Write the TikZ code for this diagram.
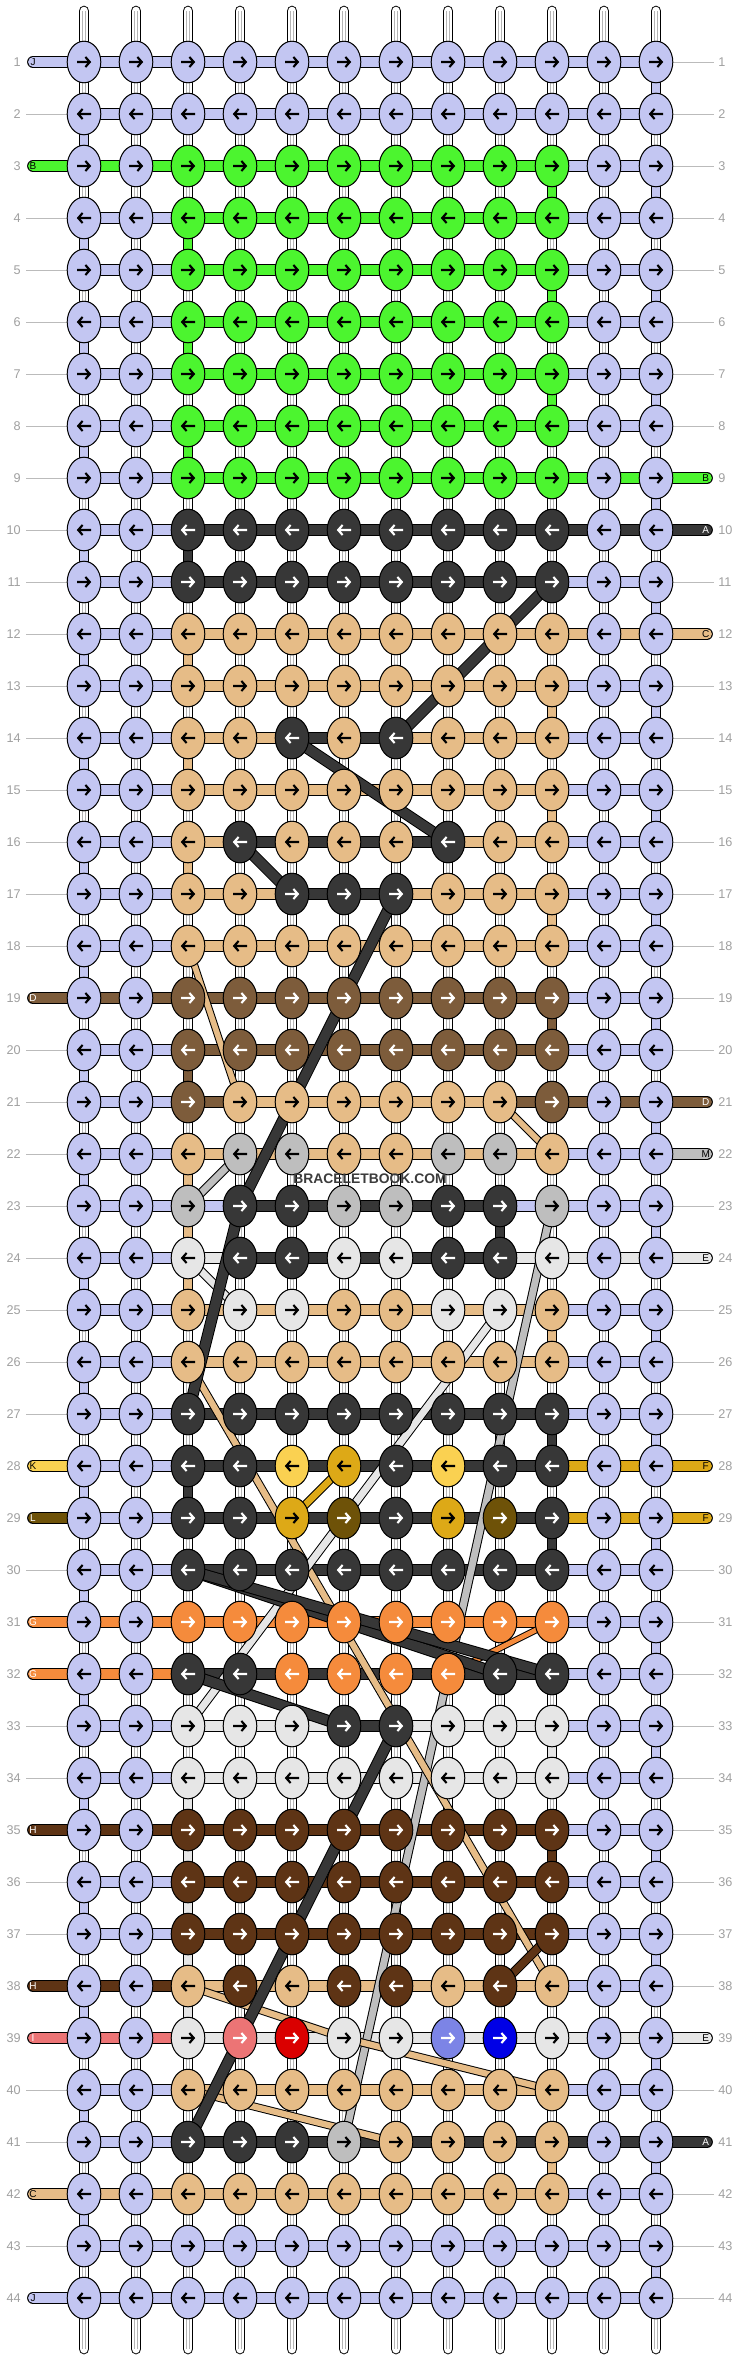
\documentclass[tikz,border=0pt]{standalone}
\usepackage{fontspec}
\setmainfont{Liberation Sans}
\usetikzlibrary{shapes.geometric}

\definecolor{cl}{HTML}{C3C6F2}
\definecolor{cg}{HTML}{4CF52F}
\definecolor{ck}{HTML}{373737}
\definecolor{ct}{HTML}{E6BC87}
\definecolor{cd}{HTML}{7D5C3B}
\definecolor{cs}{HTML}{BEBEBE}
\definecolor{cw}{HTML}{E6E6E6}
\definecolor{cy}{HTML}{FAD151}
\definecolor{cf}{HTML}{DDA917}
\definecolor{co}{HTML}{6E5208}
\definecolor{cr}{HTML}{F58B3C}
\definecolor{ch}{HTML}{5E3415}
\definecolor{cp}{HTML}{EC7475}
\definecolor{cx}{HTML}{DA0000}
\definecolor{cb}{HTML}{7C84E6}
\definecolor{cn}{HTML}{0000E6}
\colorlet{al}{black}\colorlet{ag}{black}\colorlet{at}{black}\colorlet{as}{black}
\colorlet{aw}{black}\colorlet{ay}{black}\colorlet{af}{black}
\colorlet{ak}{white}\colorlet{ad}{white}\colorlet{ao}{white}\colorlet{ar}{white}
\colorlet{ah}{white}\colorlet{ap}{white}\colorlet{ax}{white}\colorlet{ab}{white}\colorlet{an}{white}
\definecolor{numgray}{HTML}{A0A0A0}
\definecolor{linegray}{HTML}{BBBBBB}
\definecolor{warpline}{HTML}{B4B4B4}
\definecolor{wmgray}{HTML}{3C3C3C}

\newcommand\defknots[2]{\expandafter\gdef\csname KN#1\endcsname{#2}}
\newcommand\defconns[2]{\expandafter\gdef\csname HC#1\endcsname{#2}}

\def\rowLav{l,l,l,l,l,l,l,l,l,l,l,l}
\def\rowGrn{l,l,g,g,g,g,g,g,g,g,l,l}
\def\rowDrk{l,l,k,k,k,k,k,k,k,k,l,l}
\def\rowTan{l,l,t,t,t,t,t,t,t,t,l,l}
\def\rowBrn{l,l,d,d,d,d,d,d,d,d,l,l}
\def\rowChoc{l,l,h,h,h,h,h,h,h,h,l,l}

\defknots{1}{\rowLav}\defknots{2}{\rowLav}
\defknots{3}{\rowGrn}\defknots{4}{\rowGrn}\defknots{5}{\rowGrn}\defknots{6}{\rowGrn}
\defknots{7}{\rowGrn}\defknots{8}{\rowGrn}\defknots{9}{\rowGrn}
\defknots{10}{\rowDrk}\defknots{11}{\rowDrk}
\defknots{12}{\rowTan}\defknots{13}{\rowTan}
\defknots{14}{l,l,t,t,k,t,k,t,t,t,l,l}
\defknots{15}{\rowTan}
\defknots{16}{l,l,t,k,t,t,t,k,t,t,l,l}
\defknots{17}{l,l,t,t,k,k,k,t,t,t,l,l}
\defknots{18}{\rowTan}
\defknots{19}{\rowBrn}\defknots{20}{\rowBrn}
\defknots{21}{l,l,d,t,t,t,t,t,t,d,l,l}
\defknots{22}{l,l,t,s,s,t,t,s,s,t,l,l}
\defknots{23}{l,l,s,k,k,s,s,k,k,s,l,l}
\defknots{24}{l,l,w,k,k,w,w,k,k,w,l,l}
\defknots{25}{l,l,t,w,w,t,t,w,w,t,l,l}
\defknots{26}{\rowTan}
\defknots{27}{\rowDrk}
\defknots{28}{l,l,k,k,y,f,k,y,k,k,l,l}
\defknots{29}{l,l,k,k,f,o,k,f,o,k,l,l}
\defknots{30}{\rowDrk}
\defknots{31}{l,l,r,r,r,r,r,r,r,r,l,l}
\defknots{32}{l,l,k,k,r,r,r,r,k,k,l,l}
\defknots{33}{l,l,w,w,w,k,k,w,w,w,l,l}
\defknots{34}{l,l,w,w,w,w,w,w,w,w,l,l}
\defknots{35}{\rowChoc}\defknots{36}{\rowChoc}\defknots{37}{\rowChoc}
\defknots{38}{l,l,t,h,t,h,h,t,h,t,l,l}
\defknots{39}{l,l,w,p,x,w,w,b,n,w,l,l}
\defknots{40}{\rowTan}
\defknots{41}{l,l,k,k,k,s,t,t,t,t,l,l}
\defknots{42}{\rowTan}
\defknots{43}{\rowLav}\defknots{44}{\rowLav}

\def\cLav{l,l,l,l,l,l,l,l,l,l,l}
\def\cGrn{l,l,g,g,g,g,g,g,g,l,l}
\def\cDrk{l,l,k,k,k,k,k,k,k,l,l}
\def\cTan{l,l,t,t,t,t,t,t,t,l,l}
\def\cBrn{l,l,d,d,d,d,d,d,d,l,l}
\def\cChoc{l,l,h,h,h,h,h,h,h,l,l}
\def\cWht{l,l,w,w,w,w,w,w,w,l,l}

\defconns{1}{\cLav}\defconns{2}{\cLav}
\defconns{3}{g,g,g,g,g,g,g,g,g,l,l}
\defconns{4}{\cGrn}\defconns{5}{\cGrn}\defconns{6}{\cGrn}\defconns{7}{\cGrn}\defconns{8}{\cGrn}
\defconns{9}{l,l,g,g,g,g,g,g,g,g,g}
\defconns{10}{l,l,k,k,k,k,k,k,k,k,k}
\defconns{11}{\cDrk}
\defconns{12}{l,l,t,t,t,t,t,t,t,t,t}
\defconns{13}{\cTan}
\defconns{14}{l,l,t,t,k,k,t,t,t,l,l}
\defconns{15}{\cTan}
\defconns{16}{l,l,t,k,k,k,k,t,t,l,l}
\defconns{17}{l,l,t,t,k,k,t,t,t,l,l}
\defconns{18}{\cTan}
\defconns{19}{d,d,d,d,d,d,d,d,d,l,l}
\defconns{20}{\cBrn}
\defconns{21}{l,l,d,t,t,t,t,t,d,d,d}
\defconns{22}{\cTan}
\defconns{23}{l,l,l,k,k,k,k,k,l,l,l}
\defconns{24}{l,l,w,k,k,k,k,k,w,w,w}
\defconns{25}{\cTan}\defconns{26}{\cTan}
\defconns{27}{\cDrk}
\defconns{28}{l,l,k,k,k,k,k,k,k,f,f}
\defconns{29}{l,l,k,k,k,k,k,k,k,f,f}
\defconns{30}{\cDrk}
\defconns{31}{r,r,r,r,r,r,r,r,r,l,l}
\defconns{32}{r,r,k,k,k,k,k,k,k,l,l}
\defconns{33}{l,l,w,w,w,k,w,w,w,l,l}
\defconns{34}{\cWht}
\defconns{35}{h,h,h,h,h,h,h,h,h,l,l}
\defconns{36}{\cChoc}\defconns{37}{\cChoc}
\defconns{38}{h,h,t,t,t,t,t,t,t,l,l}
\defconns{39}{p,p,w,w,w,w,w,w,w,w,w}
\defconns{40}{\cTan}
\defconns{41}{l,l,k,k,k,k,k,k,k,k,k}
\defconns{42}{t,t,t,t,t,t,t,t,t,l,l}
\defconns{43}{\cLav}\defconns{44}{\cLav}

\begin{document}
\begin{tikzpicture}[x=0.75pt,y=-0.75pt,
  con/.style={draw=black, line width=0.75pt, double distance=7.3pt},
  vcon/.style={draw=black, line width=0.75pt, double distance=6.5pt},
  warp/.style={vcon, double=white},
  warpin/.style={draw=warpline, line width=0.45pt},
  diag/.style={draw=black, line width=0.75pt},
  knot/.style={ellipse, draw=black, line width=0.75pt, minimum width=25.2pt, minimum height=31.2pt, inner sep=0pt},
  arrw/.style={line width=1.6pt, line join=miter},
  num/.style={text=numgray, font=\fontsize{9.5}{10}\selectfont, inner sep=0pt},
  lab/.style={font=\fontsize{7.5}{8}\selectfont, inner sep=0pt},
  gline/.style={draw=linegray, line width=0.75pt}]

\useasboundingbox (0,0) rectangle (740,2360);
\fill[white] (0,0) rectangle (740,2360);

% grid coordinates
\foreach \ro in {1,...,44}{
  \foreach \co in {1,...,12}{
    \coordinate (p-\ro-\co) at ({84+52*(\co-1)},{62+52*(\ro-1)});
  }
  \coordinate (gl-\ro) at (26,{62+52*(\ro-1)});
  \coordinate (el-\ro) at (33,{62+52*(\ro-1)});
  \coordinate (er-\ro) at (707,{62+52*(\ro-1)});
  \coordinate (gr-\ro) at (714,{62+52*(\ro-1)});
}
\foreach \co in {1,...,12}{
  \coordinate (t-\co) at ({84+52*(\co-1)},11);
  \coordinate (b-\co) at ({84+52*(\co-1)},2349);
}

% thin grey guide lines
\foreach \ro in {2,4,5,6,7,8,9,10,11,12,13,14,15,16,17,18,20,21,22,23,24,25,26,27,30,33,34,36,37,40,41,43}{
  \draw[gline] (gl-\ro) -- (p-\ro-1);
}
\foreach \ro in {1,2,3,4,5,6,7,8,11,13,14,15,16,17,18,19,20,23,25,26,27,30,31,32,33,34,35,36,37,38,40,42,43,44}{
  \draw[gline] (p-\ro-12) -- (gr-\ro);
}

% warp ends
\foreach \co in {1,...,12}{
  \draw[warp, line cap=round] (t-\co) -- (p-1-\co);
  \draw[warpin] ([xshift=-1.1pt]t-\co) -- ([xshift=-1.1pt]p-1-\co)
                ([xshift=1.1pt]t-\co) -- ([xshift=1.1pt]p-1-\co);
  \draw[warp, line cap=round] (p-44-\co) -- (b-\co);
  \draw[warpin] ([xshift=-1.1pt]p-44-\co) -- ([xshift=-1.1pt]b-\co)
                ([xshift=1.1pt]p-44-\co) -- ([xshift=1.1pt]b-\co);
}

% vertical connectors
\foreach \ro/\co/\kc in {3/10/g,4/3/g,5/10/g,6/3/g,7/10/g,8/3/g,10/3/k,12/3/t,13/10/t,14/3/t,15/10/t,16/3/t,17/10/t,19/10/d,20/3/d,22/3/t,23/3/t,23/9/k,24/3/t,25/10/t,27/10/k,28/3/k,29/10/k,33/10/w,34/3/w,35/3/w,35/10/h,36/3/w,37/3/w,38/3/w,41/10/t}{
  \expandafter\xdef\csname VC\ro-\co\endcsname{\kc}
}
\foreach \ro in {1,...,43}{
  \pgfmathtruncatemacro\rn{\ro+1}
  \foreach \co in {1,...,12}{
    \def\vcol{}
    \ifnum\co=1 \ifodd\ro\else\def\vcol{l}\fi\fi
    \ifnum\co=12 \ifodd\ro\def\vcol{l}\fi\fi
    \ifcsname VC\ro-\co\endcsname\edef\vcol{\csname VC\ro-\co\endcsname}\fi
    \ifx\vcol\empty
      \draw[warp] (p-\ro-\co) -- (p-\rn-\co);
      \draw[warpin] ([xshift=-1.1pt]p-\ro-\co) -- ([xshift=-1.1pt]p-\rn-\co)
                    ([xshift=1.1pt]p-\ro-\co) -- ([xshift=1.1pt]p-\rn-\co);
    \else
      \draw[vcon, double=c\vcol] (p-\ro-\co) -- (p-\rn-\co);
    \fi
  }
}

% horizontal connectors
\foreach \ro in {1,...,44}{
  \edef\lst{\csname HC\ro\endcsname}
  \foreach \kc [count=\i] in \lst {
    \pgfmathtruncatemacro\j{\i+1}
    \draw[con, double=c\kc] (p-\ro-\i) -- (p-\ro-\j);
  }
}

% loose string ends at the edges
\foreach \ro/\kc/\tx in {1/l/J,3/g/B,19/d/D,28/y/K,29/o/L,31/r/G,32/r/G,35/h/H,38/h/H,39/p/I,42/t/C,44/l/J}{
  \draw[con, line cap=round, double=c\kc] (el-\ro) -- (p-\ro-1);
}
\foreach \ro/\kc/\tx in {9/g/B,10/k/A,12/t/C,21/d/D,22/s/M,24/w/E,28/f/F,29/f/F,39/w/E,41/k/A}{
  \draw[con, line cap=round, double=c\kc] (p-\ro-12) -- (er-\ro);
}

% carried strings
\foreach \ra/\ca/\rb/\cb/\kc/\ww in {
  22/4/23/3/s/5.2, 23/10/41/6/s/5.2,
  18/3/21/4/t/4.2, 21/9/22/10/t/4.4, 26/3/38/10/t/4.6, 38/3/39/6/t/4.6, 39/6/40/10/t/4.6, 40/3/41/7/t/4.6,
  24/3/25/4/w/5.2, 25/9/33/3/w/5.2,
  28/6/29/5/f/5, 31/10/32/8/r/3.6, 37/10/38/9/h/5.6,
  11/10/14/7/k/7.2, 14/5/16/8/k/7.2, 16/4/17/5/k/7.2, 17/7/23/4/k/7.2, 23/4/27/3/k/7.2,
  30/3/32/9/k/7.2, 30/3/32/10/k/7.2, 32/3/33/6/k/7.2, 33/7/41/3/k/7.2}{
  \draw[diag, double=c\kc, double distance=\ww pt] (p-\ra-\ca) -- (p-\rb-\cb);
}

% knots
\foreach \ro in {1,...,44}{
  \edef\lst{\csname KN\ro\endcsname}
  \ifodd\ro \def\dir{1}\else\def\dir{-1}\fi
  \foreach \kc [count=\i] in \lst {
    \node[knot, fill=c\kc] (k-\ro-\i) at (p-\ro-\i) {};
    \begin{scope}[shift={(p-\ro-\i)}, xscale=\dir]
      \draw[arrw, draw=a\kc] (-7,0) -- (5.4,0) (1.4,-5) -- (5.8,0) -- (1.4,5);
    \end{scope}
  }
}

% edge letters
\foreach \ro/\kc/\tx in {1/l/J,3/g/B,19/d/D,28/y/K,29/o/L,31/r/G,32/r/G,35/h/H,38/h/H,39/p/I,42/t/C,44/l/J}{
  \node[lab, text=a\kc] (ll-\ro) at (el-\ro) {\tx};
}
\foreach \ro/\kc/\tx in {9/g/B,10/k/A,12/t/C,21/d/D,22/s/M,24/w/E,28/f/F,29/f/F,39/w/E,41/k/A}{
  \node[lab, text=a\kc] (lr-\ro) at ([xshift=-1pt]er-\ro) {\tx};
}

% row numbers
\foreach \ro in {1,...,44}{
  \node[num, anchor=east] (nl-\ro) at (21,{62+52*(\ro-1)}) {\ro};
  \node[num, anchor=west] (nr-\ro) at (718,{62+52*(\ro-1)}) {\ro};
}

% watermark
\node[font=\bfseries\fontsize{10.4}{11}\selectfont, text=wmgray, inner sep=0pt] (wm) at (370,1179) {BRACELETBOOK.COM};
\end{tikzpicture}
\end{document}
